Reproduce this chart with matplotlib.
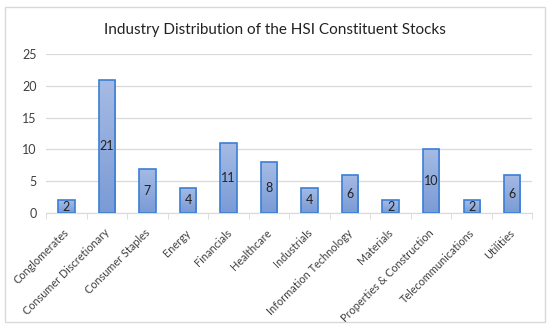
import numpy as np
import matplotlib
matplotlib.use("Agg")
from matplotlib import pyplot as plt
from matplotlib.patches import Rectangle
from matplotlib.transforms import ScaledTranslation

industries = ["Conglomerates", "Consumer Discretionary", "Consumer Staples", "Energy",
              "Financials", "Healthcare", "Industrials", "Information Technology",
              "Materials", "Properties & Construction", "Telecommunications", "Utilities"]
counts = [2, 21, 7, 4, 11, 8, 4, 6, 2, 10, 2, 6]
yticks = [0, 5, 10, 15, 20, 25]

plt.rcParams['font.family'] = ['Lato', 'DejaVu Sans']

fig = plt.figure(figsize=(5.5, 3.29), dpi=100)
ax = fig.add_axes([0.084, 0.3526, 0.884, 0.483])

# outer chart border
fig.patches.append(Rectangle((0.009, 0.02), 0.982, 0.958, transform=fig.transFigure,
                             fill=False, edgecolor='#d9d9d9', lw=1))

x = np.arange(len(industries))
w = 0.4
bars = ax.bar(x, counts, width=w, color='none', edgecolor='#3a7fd5', lw=1.2, zorder=3)

# vertical gradient in each bar
grad = np.linspace(0, 1, 100).reshape(-1, 1)
cmap = matplotlib.colors.LinearSegmentedColormap.from_list('g', ['#7a9bd6', '#a6bbe4'])
for b, v in zip(bars, counts):
    im = ax.imshow(grad, cmap=cmap, aspect='auto', origin='lower',
                   extent=[b.get_x(), b.get_x() + w, 0, v], zorder=2)
    im.set_clip_path(b)
    ax.text(b.get_x() + w / 2, v / 2, str(v), ha='center', va='center',
            fontsize=9, color='#222222', zorder=4)

ax.set_xlim(-0.5, len(industries) - 0.5)
ax.set_ylim(0, 25)
ax.set_yticks(yticks)
ax.yaxis.grid(True, color='#d9d9d9', lw=0.9, zorder=0)
ax.set_axisbelow(True)
for s in ['top', 'right', 'left']:
    ax.spines[s].set_visible(False)
ax.spines['bottom'].set_color('#d9d9d9')
ax.tick_params(axis='y', length=0, labelsize=9, labelcolor='#404040', pad=7)

ax.set_xticks(x)
ax.set_xticklabels(industries, rotation=45, ha='right', va='center', rotation_mode='anchor',
                   fontsize=7.8, color='#404040')
ax.tick_params(axis='x', length=0, pad=13)
off = ScaledTranslation(1 / 100, 0, fig.dpi_scale_trans)
for lbl in ax.get_xticklabels():
    lbl.set_transform(lbl.get_transform() + off)
ax.set_xticks(np.arange(-0.5, len(industries)), minor=True)
ax.tick_params(axis='x', which='minor', length=4, color='#d9d9d9', direction='out')

fig.text(0.5, 0.909, "Industry Distribution of the HSI Constituent Stocks",
         ha='center', va='center', fontsize=11, color='#222222')

fig.savefig("out.png", dpi=100)
